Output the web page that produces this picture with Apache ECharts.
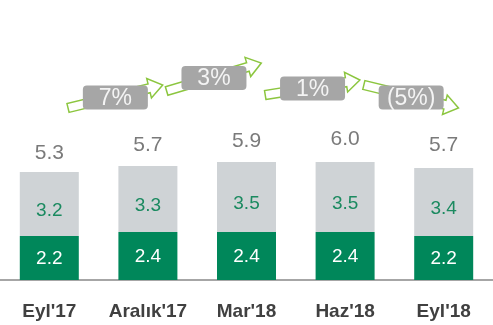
<!DOCTYPE html>
<html>
<head>
<meta charset="utf-8">
<style>
  html, body { margin: 0; padding: 0; background: #ffffff; }
  #chart { width: 493px; height: 325px; }
</style>
<script src="https://cdn.jsdelivr.net/npm/echarts@6/dist/echarts.min.js"></script>
</head>
<body>
<div id="chart"></div>
<script>
// Quarterly figures
const categories = ["Eyl'17", "Aralık'17", "Mar'18", "Haz'18", "Eyl'18"];
const greenValues = [2.2, 2.4, 2.4, 2.4, 2.2];
const grayValues = [3.2, 3.3, 3.5, 3.5, 3.4];
const totalValues = [5.3, 5.7, 5.9, 6.0, 5.7];
// Period-over-period change shown on the arrows
const changeLabels = ['7%', '3%', '1%', '(5%)'];

// Arrow placement in axis units: [fromCategory, startLevel, endLevel]
const arrowLevels = [
  [0, 8.6, 9.75],
  [1, 9.45, 10.85],
  [2, 9.25, 10.0],
  [3, 9.75, 8.6]
];

const GREEN = '#00875a';
const GRAY = '#cfd3d6';
const ARROW = '#8cc63f';

const chart = echarts.init(document.getElementById('chart'), null, { renderer: 'canvas' });

function renderArrow(params, api) {
  const idx = params.dataIndex;
  const cat = api.value(0);
  const band = api.size([1, 0])[0];
  const p0 = api.coord([cat, api.value(1)]);
  const p1 = api.coord([cat + 1, api.value(2)]);
  const sx = p0[0] + band * 0.19, sy = p0[1];
  const ex = p1[0] + band * 0.15, ey = p1[1];
  const dx = ex - sx, dy = ey - sy;
  const L = Math.sqrt(dx * dx + dy * dy);
  const ux = dx / L, uy = dy / L;
  const nx = -uy, ny = ux;
  const hw = 4.5, hh = 10, hl = 14;
  const bx = sx + ux * (L - hl), by = sy + uy * (L - hl);
  const pts = [
    [sx + nx * hw, sy + ny * hw],
    [bx + nx * hw, by + ny * hw],
    [bx + nx * hh, by + ny * hh],
    [ex, ey],
    [bx - nx * hh, by - ny * hh],
    [bx - nx * hw, by - ny * hw],
    [sx - nx * hw, sy - ny * hw]
  ];
  const cx = (sx + ex) / 2, cy = (sy + ey) / 2 + 1;
  const bw = 65, bh = 24;
  return {
    type: 'group',
    children: [
      {
        type: 'polygon',
        shape: { points: pts },
        style: { fill: '#ffffff', stroke: ARROW, lineWidth: 1.5 }
      },
      {
        type: 'rect',
        shape: { x: cx - bw / 2, y: cy - bh / 2, width: bw, height: bh, r: 4 },
        style: { fill: '#a6a6a6' }
      },
      {
        type: 'text',
        style: {
          x: cx, y: cy + 1,
          text: changeLabels[idx],
          fill: '#f4f4f4',
          font: '23px "Liberation Sans Narrow", "Liberation Sans", Arial, sans-serif',
          align: 'center',
          verticalAlign: 'middle'
        }
      }
    ]
  };
}

const option = {
  animation: false,
  backgroundColor: '#ffffff',
  grid: { left: -1, right: -4, top: 0, bottom: 45, containLabel: false },
  xAxis: {
    type: 'category',
    data: categories,
    axisTick: { show: false },
    axisLine: { show: true, lineStyle: { color: '#a6a6a6', width: 2 } },
    axisLabel: {
      interval: 0,
      margin: 22,
      color: '#404040',
      fontSize: 19,
      fontWeight: 'bold',
      fontFamily: '"Liberation Sans", Arial, sans-serif'
    }
  },
  yAxis: {
    type: 'value',
    min: 0,
    max: 14,
    show: false,
    splitLine: { show: false }
  },
  series: [
    {
      name: 'green',
      type: 'bar',
      stack: 'total',
      barWidth: 59,
      data: greenValues,
      itemStyle: { color: GREEN },
      label: {
        show: true,
        position: 'inside',
        offset: [0, 1],
        color: '#ffffff',
        fontSize: 19,
        fontFamily: '"Liberation Sans", Arial, sans-serif',
        formatter: p => p.value.toFixed(1)
      }
    },
    {
      name: 'gray',
      type: 'bar',
      stack: 'total',
      barWidth: 59,
      data: grayValues,
      itemStyle: { color: GRAY },
      label: {
        show: true,
        position: 'inside',
        offset: [0, 7],
        color: '#1b8a60',
        fontSize: 19,
        fontFamily: '"Liberation Sans", Arial, sans-serif',
        formatter: p => p.value.toFixed(1)
      }
    },
    {
      name: 'total',
      type: 'scatter',
      data: totalValues,
      symbolSize: 0,
      itemStyle: { color: 'transparent' },
      label: {
        show: true,
        position: 'top',
        distance: 10,
        color: '#595959',
        fontSize: 21,
        fontFamily: '"Liberation Sans", Arial, sans-serif',
        formatter: p => p.value.toFixed(1)
      },
      z: 5
    },
    {
      name: 'change',
      type: 'custom',
      data: arrowLevels,
      encode: { x: 0, y: [1, 2] },
      renderItem: renderArrow,
      z: 10,
      silent: true
    }
  ]
};

chart.setOption(option);
</script>
</body>
</html>
